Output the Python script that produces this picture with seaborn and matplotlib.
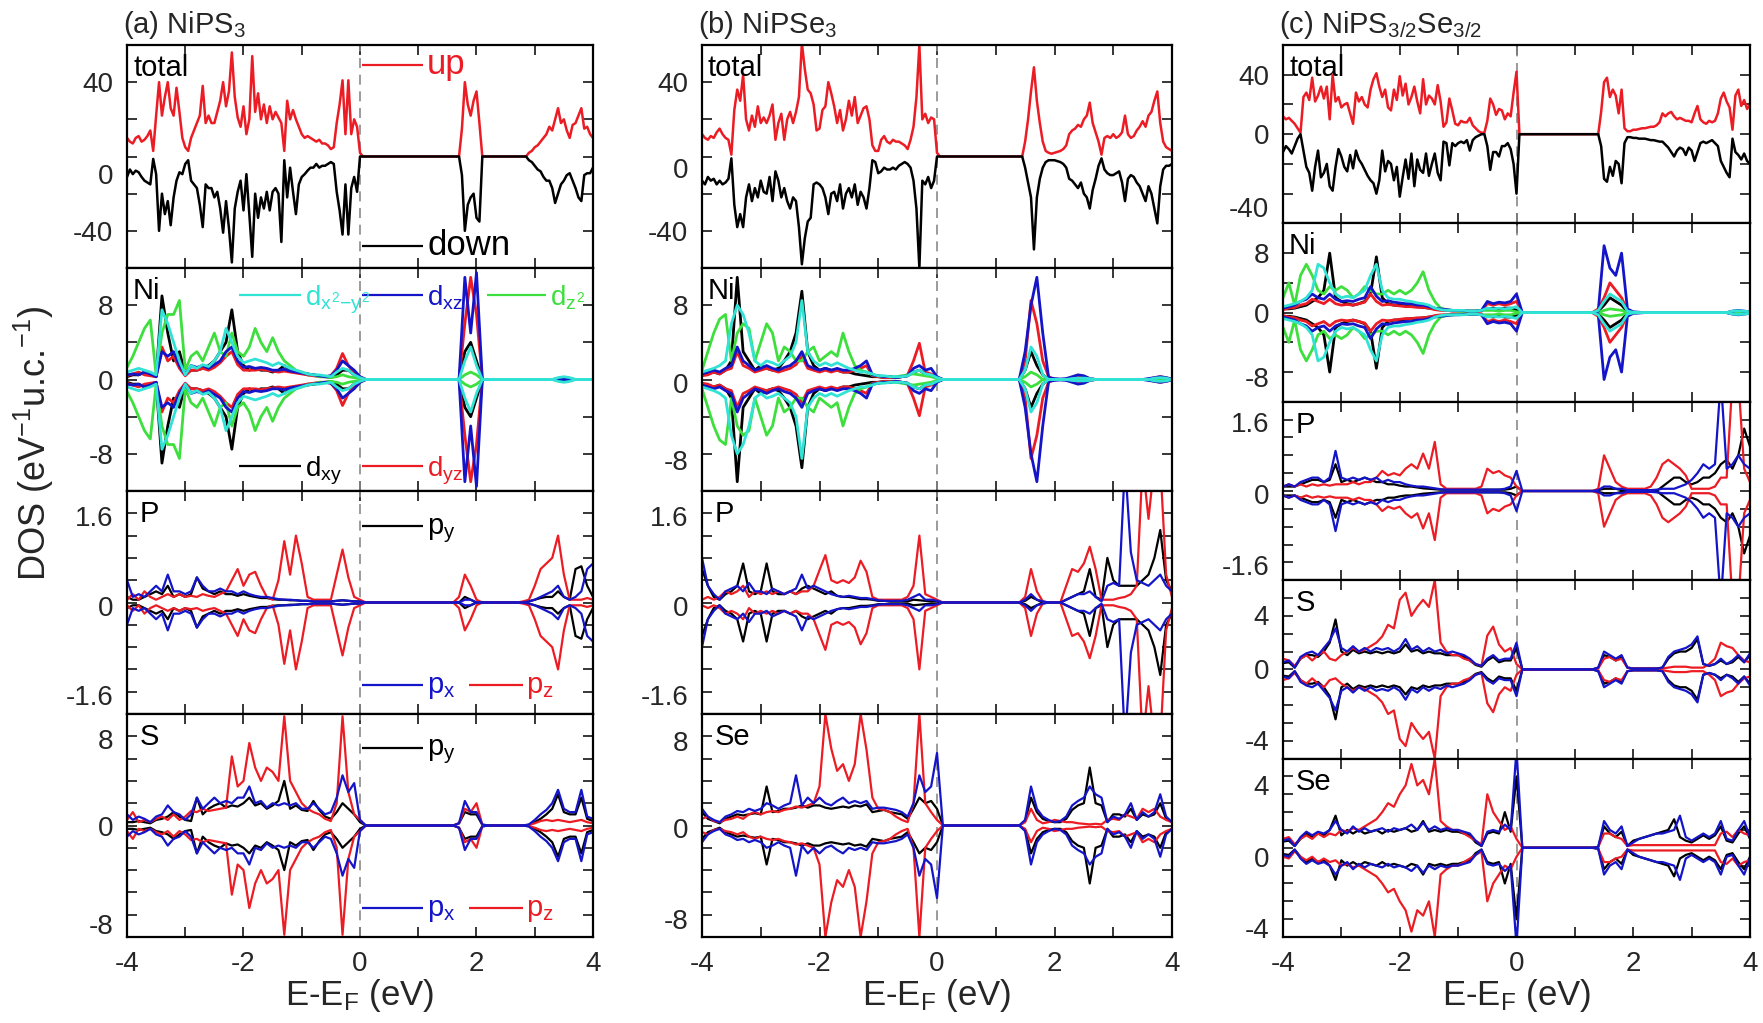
import matplotlib
matplotlib.use("Agg")
import matplotlib.pyplot as plt
import numpy as np
import seaborn as sns
from matplotlib.ticker import FixedLocator

# ---------------------------------------------------------------------------
# energy grids (eV); totals sampled every 0.05 eV, projected DOS every 0.1 eV
E_TOTAL = np.round(np.linspace(-4.0, 4.0, 161), 2)
E_PDOS = np.round(np.linspace(-4.0, 4.0, 81), 1)

# ---------------------------------------------------------------------------
# (a) NiPS3 total DOS (spin up > 0, spin down < 0)
A_TOT_UP = [
    10, 8, 7, 10, 11, 8, 9, 11, 14, 3,
    22, 40, 22, 32, 40, 26, 22, 37, 24, 10,
    5, 3, 10, 14, 18, 22, 38, 18, 22, 18,
    18, 24, 30, 40, 27, 35, 56, 32, 21, 16,
    27, 12, 20, 54, 24, 34, 20, 28, 18, 27,
    20, 24, 21, 18, 3, 30, 20, 25, 20, 16,
    12, 10, 11, 10, 9, 8, 9, 7, 7, 6,
    4, 5, 18, 28, 41, 12, 41, 12, 20, 16,
    2,
    0, 0, 0, 0, 0, 0, 0, 0, 0, 0,
    0, 0, 0, 0, 0, 0, 0, 0, 0, 0,
    0, 0, 0, 0, 0, 0, 0, 0, 0, 0,
    0, 0, 0, 0,
    15, 40, 28, 22, 30, 35, 18, 0,
    0, 0, 0, 0, 0, 0, 0, 0, 0, 0, 0, 0, 0, 0, 0,
    2, 3, 5, 6, 8, 10, 12, 16, 14,
    20, 26, 18, 20, 14, 10, 17, 18, 22, 26, 15, 16, 12, 10,
]
A_TOT_DN = [
    -11, -7, -9.5, -7.6, -8.5, -11, -13, -14, -15, -1.3,
    -9.5, -40, -20, -31, -24, -37, -22, -13, -8.5, -9.5,
    -4, -2, -13, -15, -17, -26, -38, -15, -17, -17,
    -22, -19, -28, -41, -24, -38.5, -57, -28, -19, -13,
    -29, -9.5, -31, -54, -20, -33, -22, -28, -19, -29,
    -19, -17, -20, -46, -2, -22, -6, -19, -31, -15,
    -11, -9.5, -7.6, -6, -6, -4, -6, -5, -5, -4,
    -3, -4, -19, -29, -42, -15, -42, -17, -11, -19,
    0,
    0, 0, 0, 0, 0, 0, 0, 0, 0, 0,
    0, 0, 0, 0, 0, 0, 0, 0, 0, 0,
    0, 0, 0, 0, 0, 0, 0, 0, 0, 0,
    0, 0, 0, 0,
    -10, -40, -26, -22, -20, -33, -35, 0,
    0, 0, 0, 0, 0, 0, 0, 0, 0, 0, 0, 0, 0, 0, 0,
    -2, -3, -5, -7, -8, -11, -13, -13, -17,
    -25, -20, -15, -13, -10, -9, -13, -17, -22, -24, -10, -9, -9, -6,
]

# (b) NiPSe3 total DOS
B_TOT_UP = [
    12, 10, 9, 11, 10, 13, 15, 12, 10, 9,
    1, 25, 36, 30, 44, 20, 14, 22, 16, 27,
    18, 21, 18, 22, 28, 9, 18, 23, 9, 20,
    24, 18, 24, 32, 61, 47, 36, 34, 28, 14,
    15, 25, 27, 40, 34, 27, 18, 25, 14, 20,
    30, 22, 32, 18, 22, 26, 27, 20, 6, 3,
    3, 9, 11, 8, 7, 9, 8, 8, 7, 6,
    4, 9, 16, 32, 60, 20, 23, 18, 21, 20,
    2,
    0, 0, 0, 0, 0, 0, 0, 0, 0, 0,
    0, 0, 0, 0, 0, 0, 0, 0, 0, 0,
    0, 0, 0, 0, 0, 0, 0, 0, 0,
    8, 20, 35, 48, 30, 18, 8, 3, 2, 1.5,
    2, 2.5, 3, 4, 6, 12, 14, 15, 17, 16,
    20, 22, 29, 18, 13, 8, 1, 10, 11, 10,
    12, 10, 11, 13, 22, 12, 10, 11, 14, 16,
    19, 16, 22, 24, 30, 35, 18, 8, 5, 4,
    3,
]
B_TOT_DN = [
    -13, -15, -11, -13, -12, -15, -13, -15, -14, -12,
    -1, -26, -38, -31, -38, -22, -15, -24, -17, -22,
    -13, -19, -20, -11, -24, -8, -13, -22, -17, -24,
    -28, -22, -24, -38, -58, -44, -35, -33, -15, -14,
    -15, -17, -22, -31, -20, -19, -24, -15, -28, -20,
    -17, -22, -15, -26, -19, -22, -28, -17, -2, -3,
    -9, -8, -6, -7, -7, -6, -7, -5, -4, -3,
    -4, -6, -13, -28, -60, -13, -15, -11, -17, -13,
    0,
    0, 0, 0, 0, 0, 0, 0, 0, 0, 0,
    0, 0, 0, 0, 0, 0, 0, 0, 0, 0,
    0, 0, 0, 0, 0, 0, 0, 0, 0,
    -6, -14, -22, -50, -22, -12, -6, -3, -2, -2,
    -2, -2.5, -3, -4, -6, -12, -13, -15, -17, -14,
    -20, -22, -28, -18, -12, -5, -1, -7, -9, -10,
    -10, -9, -8, -14, -24, -12, -10, -11, -14, -16,
    -20, -24, -16, -20, -28, -36, -16, -7, -5, -5,
    -4,
]

# (c) NiPS3/2Se3/2 total DOS
C_TOT_UP = [
    12, 10, 11, 9, 7, 4, 1, 25, 28, 23,
    38, 22, 26, 32, 24, 32, 10, 40, 22, 25,
    18, 20, 21, 14, 7, 28, 22, 25, 20, 18,
    30, 37, 41, 32, 25, 30, 18, 16, 30, 23,
    39, 26, 34, 20, 25, 32, 22, 14, 37, 20,
    26, 24, 20, 33, 22, 5, 8, 24, 16, 7,
    6, 9, 8, 8, 11, 6, 4, 2, 1, 1,
    9, 24, 20, 13, 17, 16, 10, 14, 12, 28,
    42,
    0, 0, 0, 0, 0, 0, 0, 0, 0, 0,
    0, 0, 0, 0, 0, 0, 0, 0, 0, 0,
    0, 0, 0, 0, 0, 0, 0, 0,
    15, 35, 38, 25, 30, 26, 14, 30, 4, 2,
    2, 3, 3, 3.5, 4, 4, 4.5, 5, 5, 6,
    8, 14, 12, 14, 15, 12, 10, 11, 10, 9,
    9, 8, 14, 19, 10, 8, 7, 9, 8, 9,
    14, 24, 28, 22, 18, 3, 26, 30, 19, 23,
    17, 20,
]
C_TOT_DN = [
    -12, -8, -10, -13, -8, -3, 0, -11, -22, -26,
    -38, -22, -11, -29, -26, -20, -35, -38, -22, -10,
    -15, -22, -25, -14, -23, -11, -17, -20, -24, -28,
    -31, -33, -40, -31, -11, -25, -18, -20, -31, -22,
    -42, -29, -17, -30, -13, -35, -17, -24, -26, -13,
    -28, -20, -13, -26, -31, -5, -6, -21, -6, -8,
    -6, -5, -6, -4, -11, -4, -2, -1, 0, 0,
    -8, -24, -12, -12, -15, -8, -8, -6, -10, -20,
    -40,
    0, 0, 0, 0, 0, 0, 0, 0, 0, 0,
    0, 0, 0, 0, 0, 0, 0, 0, 0, 0,
    0, 0, 0, 0, 0, 0, 0, 0,
    -8, -30, -32, -22, -28, -18, -20, -33, -6, -2,
    -2, -2.5, -2.5, -3, -3, -3, -3.5, -4, -4, -4.5,
    -5, -5, -7, -9, -12, -15, -11, -9, -10, -14,
    -9, -11, -18, -12, -6, -5, -6, -5, -4, -6,
    -8, -18, -22, -26, -29, -3, -12, -14, -17, -13,
    -18, -20,
]

# ---------------------------------------------------------------------------
# projected DOS, one spin channel (the other channel is its mirror image)
# rows: -4.0..-3.1 | -3.0..-2.1 | -2.0..-1.1 | -1.0..-0.1 |
#        0.0..0.9  |  1.0..1.9  |  2.0..2.9  |  3.0..3.9  | 4.0

# (a) NiPS3, Ni d
A_NI_DXY = [
    0.3, 0.5, 0.5, 0.8, 0.5, 0.3, 9.0, 5.0, 2.0, 3.0,
    0.6, 1.0, 1.0, 1.2, 1.5, 2.0, 3.0, 4.0, 7.5, 3.0,
    1.5, 1.0, 1.2, 1.0, 1.0, 0.8, 1.0, 1.5, 1.0, 0.8,
    0.7, 0.5, 0.5, 0.4, 0.3, 0.2, 0.5, 1.0, 1.0, 0.5,
    0.2, 0, 0, 0, 0, 0, 0, 0, 0, 0,
    0, 0, 0, 0, 0, 0, 0, 0, 3.0, 4.0,
    2.0, 0, 0, 0, 0, 0, 0, 0, 0, 0,
    0, 0, 0, 0, 0.05, 0.1, 0.05, 0, 0, 0,
    0,
]
A_NI_DYZ = [
    0.4, 0.6, 0.8, 0.5, 0.4, 0.3, 3.5, 2.0, 2.5, 1.2,
    0.4, 1.0, 1.0, 1.2, 1.0, 1.3, 1.8, 2.5, 3.0, 1.6,
    1.0, 1.0, 1.0, 1.1, 1.0, 0.9, 0.8, 0.9, 0.8, 0.7,
    0.6, 0.5, 0.4, 0.3, 0.3, 0.4, 1.2, 2.8, 1.5, 0.8,
    0.3, 0, 0, 0, 0, 0, 0, 0, 0, 0,
    0, 0, 0, 0, 0, 0, 0, 0, 6.0, 11.0,
    7.0, 0, 0, 0, 0, 0, 0, 0, 0, 0,
    0, 0, 0, 0, 0.05, 0.1, 0.05, 0, 0, 0,
    0,
]
A_NI_DXZ = [
    0.5, 0.6, 0.5, 0.8, 0.6, 0.3, 3.0, 2.5, 3.0, 1.5,
    0.5, 1.5, 1.3, 1.5, 1.2, 1.6, 2.0, 3.0, 3.5, 2.0,
    1.3, 1.4, 1.2, 1.3, 1.2, 1.0, 1.0, 1.1, 0.9, 0.8,
    0.7, 0.6, 0.5, 0.4, 0.3, 0.4, 1.0, 2.0, 1.5, 1.0,
    0.3, 0, 0, 0, 0, 0, 0, 0, 0, 0,
    0, 0, 0, 0, 0, 0, 0, 0, 11.0, 5.0,
    11.5, 0, 0, 0, 0, 0, 0, 0, 0, 0,
    0, 0, 0, 0, 0.05, 0.1, 0.05, 0, 0, 0,
    0,
]
A_NI_DX2Y2 = [
    0.8, 1.0, 1.2, 1.0, 0.8, 0.5, 7.5, 6.0, 4.0, 2.0,
    0.5, 1.5, 1.2, 1.6, 1.4, 2.0, 3.0, 5.5, 4.0, 2.5,
    1.8, 2.0, 2.2, 2.0, 1.8, 1.5, 1.8, 1.5, 1.2, 1.0,
    0.8, 0.6, 0.5, 0.5, 0.4, 0.3, 0.8, 1.2, 1.0, 0.5,
    0.2, 0, 0, 0, 0, 0, 0, 0, 0, 0,
    0, 0, 0, 0, 0, 0, 0, 0, 2.0, 3.5,
    1.5, 0, 0, 0, 0, 0, 0, 0, 0, 0,
    0, 0, 0, 0, 0.2, 0.3, 0.2, 0, 0, 0,
    0,
]
A_NI_DZ2 = [
    1.3, 2.5, 4.0, 5.5, 6.4, 0.5, 5.0, 7.0, 7.0, 8.5,
    1.0, 2.5, 3.0, 2.0, 3.5, 5.0, 3.0, 2.5, 5.0, 3.0,
    2.5, 3.5, 5.5, 4.0, 3.0, 4.5, 3.0, 2.0, 1.5, 1.0,
    0.8, 0.6, 0.5, 0.3, 0.3, 0.2, 0.3, 0.5, 0.3, 0.2,
    0.1, 0, 0, 0, 0, 0, 0, 0, 0, 0,
    0, 0, 0, 0, 0, 0, 0, 0, 0.5, 0.8,
    0.5, 0, 0, 0, 0, 0, 0, 0, 0, 0,
    0, 0, 0, 0, 0, 0, 0, 0, 0, 0,
    0,
]

# (a) NiPS3, P p
A_P_PY = [
    0.1, 0.05, 0.05, 0.1, 0.15, 0.2, 0.15, 0.3, 0.1, 0.15,
    0.1, 0.15, 0.45, 0.25, 0.2, 0.15, 0.2, 0.15, 0.15, 0.12,
    0.15, 0.12, 0.1, 0.08, 0.08, 0.06, 0.05, 0.05, 0.04, 0.04,
    0.03, 0.03, 0.02, 0.02, 0.02, 0.02, 0.03, 0.04, 0.03, 0.02,
    0.02, 0, 0, 0, 0, 0, 0, 0, 0, 0,
    0, 0, 0, 0, 0, 0, 0, 0, 0.1, 0.05,
    0, 0, 0, 0, 0, 0, 0, 0, 0, 0.02,
    0.05, 0.08, 0.1, 0.1, 0.2, 0.1, 0.05, 0.6, 0.65, 0.3,
    0.1,
]
A_P_PZ = [
    0.05, 0.15, 0.05, 0.2, 0.1, 0.05, 0.1, 0.15, 0.1, 0.15,
    0.1, 0.12, 0.1, 0.15, 0.12, 0.1, 0.15, 0.2, 0.4, 0.6,
    0.3, 0.5, 0.55, 0.3, 0.1, 0.05, 0.4, 1.1, 0.5, 1.2,
    0.7, 0.1, 0.05, 0.05, 0.05, 0.05, 0.5, 0.95, 0.45, 0.1,
    0.05, 0, 0, 0, 0, 0, 0, 0, 0, 0,
    0, 0, 0, 0, 0, 0, 0, 0.1, 0.5, 0.3,
    0.05, 0, 0, 0, 0, 0, 0, 0, 0.02, 0.05,
    0.3, 0.6, 0.7, 0.8, 1.2, 0.5, 0.05, 0.05, 0.05, 0.08,
    0.05,
]
A_P_PX = [
    0.4, 0.1, 0.15, 0.1, 0.2, 0.3, 0.2, 0.5, 0.2, 0.2,
    0.15, 0.2, 0.45, 0.3, 0.2, 0.2, 0.25, 0.2, 0.2, 0.15,
    0.2, 0.15, 0.12, 0.1, 0.1, 0.08, 0.06, 0.05, 0.05, 0.04,
    0.03, 0.03, 0.02, 0.02, 0.02, 0.02, 0.03, 0.04, 0.03, 0.02,
    0.02, 0, 0, 0, 0, 0, 0, 0, 0, 0,
    0, 0, 0, 0, 0, 0, 0, 0, 0.05, 0.05,
    0, 0, 0, 0, 0, 0, 0, 0, 0, 0.02,
    0.05, 0.1, 0.15, 0.2, 0.3, 0.1, 0.05, 0.1, 0.2, 0.6,
    0.7,
]

# (a) NiPS3, S p
A_S_PY = [
    0.3, 0.3, 0.4, 0.3, 0.2, 0.5, 0.6, 0.8, 1.2, 0.8,
    0.5, 0.4, 2.5, 1.0, 1.5, 1.8, 2.0, 1.6, 1.8, 1.7,
    2.0, 2.5, 1.8, 2.0, 1.5, 1.8, 2.2, 4.0, 1.5, 1.8,
    1.4, 1.3, 2.2, 1.4, 0.8, 0.6, 1.2, 2.0, 1.5, 1.0,
    0.3, 0, 0, 0, 0, 0, 0, 0, 0, 0,
    0, 0, 0, 0, 0, 0, 0, 0.2, 1.2, 1.0,
    1.0, 0.05, 0, 0, 0, 0, 0, 0, 0, 0.05,
    0.3, 0.6, 1.0, 1.5, 2.8, 1.2, 1.0, 1.0, 2.5, 0.6,
    0.4,
]
A_S_PZ = [
    0.5, 1.2, 0.3, 0.5, 0.3, 0.6, 0.8, 0.5, 1.0, 0.5,
    0.8, 1.3, 1.2, 1.5, 1.3, 1.4, 1.5, 1.6, 6.2, 3.5,
    4.0, 7.4, 5.2, 4.0, 5.2, 4.8, 4.0, 9.8, 4.0, 3.0,
    2.0, 1.5, 1.2, 1.0, 0.6, 0.4, 2.0, 9.8, 3.0, 1.0,
    0.5, 0, 0, 0, 0, 0, 0, 0, 0, 0,
    0, 0, 0, 0, 0, 0, 0, 0.2, 1.5, 1.2,
    2.0, 0.05, 0, 0, 0, 0, 0, 0, 0, 0.05,
    0.2, 0.4, 0.5, 0.4, 0.5, 0.4, 0.3, 0.4, 0.5, 0.3,
    0.2,
]
A_S_PX = [
    1.0, 0.5, 0.8, 0.6, 0.3, 0.8, 1.0, 1.8, 1.2, 1.0,
    0.5, 1.0, 2.5, 1.5, 2.0, 2.5, 2.0, 2.2, 2.0, 2.5,
    2.5, 3.5, 2.0, 2.2, 1.6, 2.0, 1.8, 2.0, 1.8, 2.0,
    1.5, 1.5, 2.0, 1.5, 1.0, 1.2, 2.5, 4.5, 3.0, 3.8,
    0.5, 0, 0, 0, 0, 0, 0, 0, 0, 0,
    0, 0, 0, 0, 0, 0, 0, 0.2, 2.2, 1.2,
    1.2, 0.1, 0, 0, 0, 0, 0, 0, 0, 0.1,
    0.5, 1.0, 1.4, 2.0, 3.2, 1.5, 1.2, 1.2, 3.2, 0.8,
    0.6,
]

# (b) NiPSe3, Ni d
B_NI_DXY = [
    0.5, 0.6, 0.8, 0.6, 1.0, 2.0, 11.0, 3.0, 2.0, 1.0,
    1.5, 1.2, 1.0, 1.2, 2.0, 3.0, 5.0, 9.5, 3.0, 1.5,
    1.0, 1.2, 1.0, 1.0, 0.8, 0.8, 0.6, 0.5, 0.4, 0.3,
    0.3, 0.2, 0.2, 0.2, 0.3, 0.4, 0.8, 1.0, 0.6, 0.5,
    0.2, 0, 0, 0, 0, 0, 0, 0, 0, 0,
    0, 0, 0, 0, 0, 1.0, 3.0, 1.5, 0.5, 0,
    0, 0, 0, 0, 0, 0, 0, 0, 0, 0,
    0, 0, 0, 0, 0, 0, 0, 0, 0, 0,
    0,
]
B_NI_DYZ = [
    0.4, 0.5, 0.8, 0.6, 1.0, 1.2, 3.0, 1.5, 1.2, 0.8,
    1.0, 1.2, 1.0, 0.8, 1.0, 1.2, 1.6, 2.5, 1.2, 1.0,
    0.8, 1.0, 0.8, 1.0, 0.8, 0.8, 1.0, 1.2, 1.5, 0.4,
    0.3, 0.2, 0.2, 0.2, 0.3, 0.5, 2.0, 3.9, 0.8, 0.6,
    0.2, 0, 0, 0, 0, 0, 0, 0, 0, 0,
    0, 0, 0, 0, 0, 2.0, 8.5, 6.0, 2.0, 0.3,
    0, 0, 0, 0.2, 0.3, 0.3, 0.1, 0, 0, 0,
    0, 0, 0, 0, 0, 0, 0, 0.2, 0.3, 0.2,
    0,
]
B_NI_DXZ = [
    0.6, 0.8, 1.0, 0.8, 1.2, 1.5, 3.5, 2.0, 1.5, 1.0,
    1.2, 1.5, 1.2, 1.0, 1.3, 1.5, 2.0, 3.0, 1.5, 1.2,
    1.0, 1.2, 1.0, 1.2, 1.0, 1.0, 1.2, 1.5, 2.0, 0.5,
    0.4, 0.3, 0.3, 0.2, 0.3, 0.4, 1.2, 1.5, 1.0, 1.2,
    0.3, 0, 0, 0, 0, 0, 0, 0, 0, 0,
    0, 0, 0, 0, 0, 3.0, 8.0, 11.0, 5.0, 0.2,
    0.1, 0.05, 0.1, 0.3, 0.5, 0.4, 0.1, 0, 0, 0,
    0, 0, 0, 0, 0, 0, 0.1, 0.2, 0.3, 0.2,
    0.05,
]
B_NI_DX2Y2 = [
    0.8, 1.0, 1.2, 1.5, 2.0, 6.0, 8.0, 7.0, 5.0, 2.0,
    1.5, 2.0, 1.8, 1.5, 2.0, 2.5, 4.0, 8.5, 3.0, 2.0,
    1.5, 1.8, 1.5, 1.8, 1.5, 1.2, 1.0, 0.8, 0.8, 0.6,
    0.4, 0.4, 0.3, 0.3, 0.3, 0.4, 0.8, 1.0, 0.6, 0.5,
    0.2, 0, 0, 0, 0, 0, 0, 0, 0, 0,
    0, 0, 0, 0, 0, 1.0, 3.5, 2.5, 0.5, 0,
    0, 0, 0, 0.1, 0.15, 0.15, 0.1, 0, 0, 0,
    0, 0, 0, 0, 0, 0, 0, 0.15, 0.2, 0.15,
    0,
]
B_NI_DZ2 = [
    1.0, 3.0, 5.0, 6.5, 7.0, 2.0, 5.0, 6.0, 5.5, 2.0,
    4.0, 6.0, 5.0, 2.0, 3.5, 3.0, 2.0, 2.0, 3.0, 3.5,
    2.0, 2.5, 3.0, 2.5, 5.0, 3.0, 1.5, 1.0, 0.8, 0.5,
    0.4, 0.3, 0.3, 0.3, 0.4, 0.5, 0.6, 0.5, 0.4, 0.3,
    0.1, 0, 0, 0, 0, 0, 0, 0, 0, 0,
    0, 0, 0, 0, 0, 0.3, 0.8, 0.5, 0, 0,
    0, 0, 0, 0, 0, 0, 0, 0, 0, 0,
    0, 0, 0, 0, 0, 0, 0, 0, 0, 0,
    0,
]

# (b) NiPSe3, P p
B_P_PY = [
    0.6, 0.3, 0.1, 0.05, 0.15, 0.2, 0.3, 0.7, 0.2, 0.15,
    0.2, 0.7, 0.2, 0.15, 0.15, 0.2, 0.15, 0.25, 0.3, 0.25,
    0.2, 0.15, 0.2, 0.12, 0.1, 0.1, 0.08, 0.06, 0.06, 0.05,
    0.03, 0.03, 0.02, 0.02, 0.02, 0.02, 0.05, 0.04, 0.03, 0.02,
    0.02, 0, 0, 0, 0, 0, 0, 0, 0, 0,
    0, 0, 0, 0, 0, 0.03, 0.1, 0.05, 0, 0,
    0, 0, 0.05, 0.1, 0.15, 0.2, 0.6, 0.1, 0.05, 0.8,
    0.4, 0.3, 0.3, 0.3, 0.3, 0.4, 0.5, 0.8, 1.3, 0.4,
    0.2,
]
B_P_PZ = [
    0.05, 0.1, 0.05, 0.1, 0.2, 0.15, 0.2, 0.3, 0.1, 0.2,
    0.15, 0.2, 0.15, 0.2, 0.15, 0.2, 0.15, 0.2, 0.2, 0.3,
    0.58, 0.85, 0.4, 0.35, 0.4, 0.35, 0.45, 0.75, 0.55, 0.1,
    0.05, 0.05, 0.05, 0.05, 0.05, 0.1, 0.3, 1.2, 0.15, 0.1,
    0.05, 0, 0, 0, 0, 0, 0, 0, 0, 0,
    0, 0, 0, 0, 0, 0.1, 0.6, 0.2, 0.02, 0,
    0, 0, 0.3, 0.6, 0.55, 0.7, 1.0, 0.6, 0.05, 0.05,
    0.05, 0.08, 0.1, 0.15, 0.3, 2.5, 1.5, 2.5, 2.5, 0.5,
    0.1,
]
B_P_PX = [
    0.8, 0.3, 0.15, 0.05, 0.2, 0.25, 0.3, 0.2, 0.35, 0.2,
    0.2, 0.15, 0.25, 0.2, 0.15, 0.2, 0.25, 0.5, 0.25, 0.3,
    0.25, 0.2, 0.15, 0.12, 0.1, 0.12, 0.1, 0.08, 0.08, 0.06,
    0.04, 0.03, 0.03, 0.03, 0.03, 0.05, 0.1, 0.15, 0.05, 0.05,
    0.03, 0, 0, 0, 0, 0, 0, 0, 0, 0,
    0, 0, 0, 0, 0, 0.05, 0.15, 0.05, 0.02, 0,
    0, 0, 0.05, 0.1, 0.15, 0.15, 0.2, 0.1, 0.02, 0.3,
    0.35, 0.3, 2.5, 0.9, 0.4, 0.35, 0.3, 0.4, 0.5, 0.3,
    0.2,
]

# (b) NiPSe3, Se p
B_SE_PY = [
    1.2, 0.6, 0.4, 0.2, 0.6, 0.8, 1.0, 0.9, 1.0, 1.1,
    1.0, 3.5, 1.2, 1.3, 1.5, 1.5, 1.6, 1.8, 1.6, 1.8,
    1.8, 1.6, 1.5, 1.6, 1.7, 1.6, 1.8, 1.7, 1.9, 1.2,
    1.3, 1.4, 1.2, 1.1, 1.0, 0.6, 1.5, 2.5, 2.0, 2.2,
    1.5, 0, 0, 0, 0, 0, 0, 0, 0, 0,
    0, 0, 0, 0, 0, 0.4, 2.5, 1.2, 0.6, 0.4,
    0.3, 0.3, 0.6, 1.4, 1.8, 2.0, 5.2, 2.0, 1.8, 0.3,
    1.0, 1.0, 0.8, 1.5, 0.5, 1.0, 0.8, 1.0, 2.0, 0.6,
    0.3,
]
B_SE_PZ = [
    0.6, 0.8, 0.4, 0.3, 0.5, 0.6, 0.8, 0.6, 1.0, 1.2,
    1.0, 1.2, 1.3, 1.2, 1.4, 1.5, 1.7, 1.6, 1.8, 2.0,
    3.5, 10.0, 6.9, 4.9, 5.5, 4.0, 5.5, 10.0, 6.8, 2.5,
    1.5, 1.4, 1.2, 0.8, 0.5, 0.3, 2.0, 10.0, 2.0, 1.2,
    0.5, 0, 0, 0, 0, 0, 0, 0, 0, 0,
    0, 0, 0, 0, 0, 0.3, 1.5, 0.5, 0.2, 0.3,
    0.5, 0.4, 0.3, 0.3, 0.2, 0.15, 0.1, 0.15, 0.1, 0.5,
    0.6, 0.5, 1.0, 0.8, 0.6, 1.5, 1.2, 1.5, 0.8, 0.5,
    0.3,
]
B_SE_PX = [
    1.5, 0.8, 0.5, 0.3, 0.8, 1.0, 1.3, 1.2, 1.5, 1.3,
    1.5, 2.0, 1.8, 1.5, 1.8, 2.0, 4.5, 1.8, 2.5, 2.0,
    2.5, 2.0, 1.8, 2.2, 2.5, 2.0, 2.2, 2.0, 2.2, 1.5,
    1.6, 1.6, 1.5, 1.4, 1.2, 0.8, 2.0, 4.5, 3.0, 3.5,
    6.5, 0, 0, 0, 0, 0, 0, 0, 0, 0,
    0, 0, 0, 0, 0, 0.5, 3.5, 1.5, 0.8, 0.5,
    0.3, 0.4, 0.8, 1.8, 2.2, 2.5, 3.5, 2.8, 2.5, 0.3,
    0.8, 0.6, 1.0, 2.0, 0.5, 1.2, 0.8, 1.2, 2.8, 0.8,
    0.3,
]

# (c) NiPS3/2Se3/2, Ni d
C_NI_DXY = [
    0.5, 0.5, 0.6, 0.8, 1.0, 1.5, 2.0, 3.0, 8.0, 2.0,
    1.5, 1.2, 1.0, 1.2, 1.5, 2.5, 7.5, 2.0, 1.2, 1.0,
    1.0, 0.9, 0.8, 0.8, 0.7, 0.6, 0.5, 0.4, 0.3, 0.3,
    0.25, 0.25, 0.2, 0.2, 0.3, 0.5, 0.6, 0.5, 0.6, 0.6,
    0.3, 0, 0, 0, 0, 0, 0, 0, 0, 0,
    0, 0, 0, 0, 0.2, 1.0, 2.0, 1.5, 1.0, 0.1,
    0, 0, 0, 0, 0, 0, 0, 0, 0, 0,
    0, 0, 0, 0, 0, 0, 0, 0.1, 0.1, 0.1,
    0.05,
]
C_NI_DYZ = [
    0.4, 0.6, 0.7, 1.0, 1.2, 1.8, 1.5, 1.2, 1.8, 1.2,
    1.0, 1.1, 1.0, 1.2, 1.4, 2.5, 1.5, 1.0, 1.1, 1.0,
    0.9, 0.8, 0.8, 0.7, 0.7, 0.6, 0.4, 0.3, 0.3, 0.2,
    0.2, 0.2, 0.15, 0.15, 0.2, 1.2, 1.0, 1.2, 1.0, 1.2,
    1.5, 0, 0, 0, 0, 0, 0, 0, 0, 0,
    0, 0, 0, 0, 0.5, 2.0, 4.0, 3.0, 2.0, 0.3,
    0.05, 0, 0, 0, 0, 0, 0, 0, 0, 0,
    0, 0, 0, 0, 0, 0, 0, 0.1, 0.15, 0.1,
    0.05,
]
C_NI_DXZ = [
    0.6, 0.8, 1.0, 1.5, 1.8, 2.5, 2.0, 1.8, 2.5, 1.8,
    1.5, 1.6, 1.5, 1.8, 2.0, 3.5, 2.2, 1.5, 1.6, 1.4,
    1.3, 1.2, 1.2, 1.0, 1.0, 0.8, 0.6, 0.5, 0.4, 0.3,
    0.3, 0.25, 0.2, 0.2, 0.3, 1.5, 1.2, 1.4, 1.3, 1.5,
    2.5, 0, 0, 0, 0, 0, 0, 0, 0, 0,
    0, 0, 0, 0, 0.2, 9.0, 6.0, 5.0, 8.0, 0.5,
    0.1, 0.05, 0, 0, 0, 0, 0, 0, 0, 0,
    0, 0, 0, 0, 0, 0, 0, 0.2, 0.3, 0.2,
    0.1,
]
C_NI_DX2Y2 = [
    0.8, 1.0, 1.2, 1.5, 2.0, 3.0, 6.5, 6.0, 4.0, 2.5,
    2.0, 2.2, 2.0, 2.5, 3.0, 5.0, 6.5, 3.0, 2.0, 1.8,
    1.8, 1.6, 1.5, 1.3, 1.2, 1.0, 0.6, 0.4, 0.3, 0.3,
    0.3, 0.3, 0.2, 0.2, 0.3, 0.6, 0.5, 0.6, 0.5, 0.6,
    0.8, 0, 0, 0, 0, 0, 0, 0, 0, 0,
    0, 0, 0, 0, 0.3, 1.5, 2.5, 2.0, 1.5, 0.2,
    0.05, 0, 0, 0, 0, 0, 0, 0, 0, 0,
    0, 0, 0, 0, 0, 0, 0, 0.2, 0.25, 0.2,
    0.1,
]
C_NI_DZ2 = [
    2.0, 4.0, 1.0, 5.0, 6.5, 5.0, 3.0, 2.5, 3.5, 3.0,
    3.5, 3.0, 2.0, 2.5, 3.5, 3.0, 2.5, 2.5, 3.0, 2.5,
    3.0, 2.5, 3.0, 4.0, 5.5, 3.0, 1.5, 0.6, 0.4, 0.3,
    0.2, 0.2, 0.2, 0.2, 0.3, 0.3, 0.3, 0.2, 0.3, 0.3,
    0.1, 0, 0, 0, 0, 0, 0, 0, 0, 0,
    0, 0, 0, 0, 0, 0.3, 0.5, 0.4, 0.3, 0,
    0, 0, 0, 0, 0, 0, 0, 0, 0, 0,
    0, 0, 0, 0, 0, 0, 0, 0, 0, 0,
    0,
]

# (c) NiPS3/2Se3/2, P p
C_P_PY = [
    0.1, 0.1, 0.1, 0.15, 0.2, 0.25, 0.25, 0.2, 0.25, 0.6,
    0.2, 0.25, 0.2, 0.25, 0.3, 0.25, 0.2, 0.2, 0.15, 0.15,
    0.12, 0.1, 0.1, 0.08, 0.06, 0.05, 0.04, 0.03, 0.03, 0.03,
    0.03, 0.03, 0.03, 0.03, 0.03, 0.03, 0.03, 0.03, 0.03, 0.05,
    0.1, 0, 0, 0, 0, 0, 0, 0, 0, 0,
    0, 0, 0, 0, 0.02, 0.05, 0.05, 0.05, 0.02, 0,
    0, 0, 0, 0, 0, 0.1, 0.2, 0.3, 0.3, 0.2,
    0.15, 0.2, 0.3, 0.3, 0.4, 0.6, 0.7, 0.5, 0.8, 1.4,
    1.0,
]
C_P_PZ = [
    0.1, 0.15, 0.1, 0.15, 0.1, 0.15, 0.12, 0.15, 0.12, 0.15,
    0.15, 0.15, 0.2, 0.15, 0.2, 0.2, 0.3, 0.45, 0.35, 0.4,
    0.35, 0.5, 0.6, 0.5, 0.84, 0.5, 1.1, 0.15, 0.05, 0.05,
    0.05, 0.05, 0.05, 0.05, 0.1, 0.5, 0.4, 0.45, 0.35, 0.3,
    0.1, 0, 0, 0, 0, 0, 0, 0, 0, 0,
    0, 0, 0, 0, 0.05, 0.8, 0.5, 0.2, 0.1, 0.05,
    0.05, 0.05, 0.05, 0.1, 0.3, 0.6, 0.7, 0.6, 0.5, 0.35,
    0.05, 0.05, 0.05, 0.05, 0.1, 0.3, 0.3, 2.5, 2.5, 0.5,
    0.2,
]
C_P_PX = [
    0.1, 0.15, 0.1, 0.2, 0.25, 0.3, 0.3, 0.2, 0.3, 0.9,
    0.3, 0.25, 0.3, 0.25, 0.3, 0.25, 0.3, 0.2, 0.25, 0.2,
    0.2, 0.15, 0.12, 0.1, 0.1, 0.08, 0.06, 0.04, 0.03, 0.03,
    0.03, 0.03, 0.03, 0.03, 0.03, 0.03, 0.03, 0.03, 0.05, 0.1,
    0.45, 0, 0, 0, 0, 0, 0, 0, 0, 0,
    0, 0, 0, 0, 0.02, 0.1, 0.1, 0.05, 0.05, 0.02,
    0.02, 0.02, 0.02, 0.02, 0.03, 0.05, 0.05, 0.05, 0.1, 0.15,
    0.25, 0.4, 0.6, 0.5, 0.6, 2.5, 0.5, 0.6, 0.8, 0.6,
    0.5,
]

# (c) NiPS3/2Se3/2, S p
C_S_PY = [
    0.35, 0.4, 0.1, 0.6, 0.8, 0.8, 0.7, 1.0, 1.5, 2.8,
    1.0, 0.8, 1.1, 0.9, 1.0, 0.9, 1.0, 0.9, 1.0, 0.9,
    1.0, 1.4, 1.0, 1.1, 0.9, 1.0, 0.9, 0.9, 0.8, 0.8,
    0.8, 0.7, 0.5, 0.25, 0.15, 0.5, 0.7, 0.4, 0.5, 0.5,
    1.2, 0, 0, 0, 0, 0, 0, 0, 0, 0,
    0, 0, 0, 0, 0.1, 0.8, 0.7, 0.5, 0.7, 0.1,
    0.05, 0.05, 0.05, 0.05, 0.05, 0.1, 0.6, 0.9, 1.0, 1.0,
    1.2, 1.7, 0.3, 0.2, 0.3, 0.5, 0.3, 0.4, 0.7, 0.4,
    0.8,
]
C_S_PZ = [
    0.6, 0.5, 0.2, 0.6, 0.8, 0.5, 0.8, 1.0, 0.6, 0.5,
    0.8, 1.0, 1.2, 1.0, 1.1, 1.3, 1.5, 1.85, 2.5, 2.3,
    3.9, 4.3, 3.0, 3.5, 3.9, 3.5, 5.0, 1.5, 1.0, 0.8,
    0.8, 0.6, 0.5, 0.3, 0.2, 1.9, 2.4, 1.4, 1.0, 1.2,
    0.3, 0, 0, 0, 0, 0, 0, 0, 0, 0,
    0, 0, 0, 0, 0.05, 0.6, 0.7, 0.5, 0.6, 0.1,
    0.05, 0.05, 0.05, 0.05, 0.05, 0.05, 0.1, 0.15, 0.15, 0.15,
    0.1, 0.1, 0.1, 0.3, 0.6, 1.5, 1.3, 1.2, 0.8, 0.5,
    0.4,
]
C_S_PX = [
    0.4, 0.5, 0.1, 0.7, 0.9, 1.0, 0.8, 1.2, 1.6, 2.3,
    1.2, 1.0, 1.3, 1.0, 1.2, 1.0, 1.2, 1.1, 1.2, 1.0,
    1.2, 1.7, 1.1, 1.3, 1.0, 1.2, 1.0, 1.1, 0.9, 1.0,
    0.9, 0.8, 0.6, 0.3, 0.2, 0.6, 0.8, 0.5, 0.6, 0.6,
    1.5, 0, 0, 0, 0, 0, 0, 0, 0, 0,
    0, 0, 0, 0, 0.1, 1.0, 0.8, 0.6, 0.8, 0.1,
    0.05, 0.05, 0.05, 0.05, 0.05, 0.1, 0.7, 1.0, 1.1, 1.2,
    1.4, 1.85, 0.3, 0.2, 0.3, 0.6, 0.3, 0.5, 0.8, 0.4,
    0.9,
]

# (c) NiPS3/2Se3/2, Se p
C_SE_PY = [
    0.35, 0.4, 0.1, 0.5, 0.8, 0.6, 0.8, 0.7, 1.0, 1.8,
    0.7, 1.0, 0.8, 1.0, 0.8, 0.9, 1.0, 0.8, 1.0, 0.9,
    1.0, 1.1, 0.9, 1.0, 1.5, 0.9, 1.0, 0.9, 1.0, 0.9,
    0.9, 0.8, 0.7, 0.3, 0.1, 0.8, 0.9, 0.8, 2.0, 0.9,
    4.0, 0, 0, 0, 0, 0, 0, 0, 0, 0,
    0, 0, 0, 0, 0.05, 1.2, 0.8, 0.6, 0.9, 0.1,
    0.4, 0.5, 0.6, 0.7, 0.8, 0.9, 1.0, 1.6, 0.6, 0.4,
    0.3, 0.5, 0.7, 0.5, 0.7, 1.2, 0.4, 0.3, 0.8, 1.2,
    0.5,
]
C_SE_PZ = [
    0.5, 0.6, 0.2, 0.5, 0.7, 0.5, 0.8, 0.6, 0.8, 0.7,
    1.0, 0.9, 1.1, 1.0, 1.2, 1.4, 1.6, 2.0, 2.5, 2.3,
    3.0, 3.5, 4.7, 3.5, 3.8, 3.0, 5.0, 1.5, 1.2, 1.0,
    1.0, 0.8, 0.6, 0.4, 0.2, 3.0, 2.0, 1.5, 1.0, 1.2,
    0.5, 0, 0, 0, 0, 0, 0, 0, 0, 0,
    0, 0, 0, 0, 0.05, 0.8, 0.8, 0.6, 0.5, 0.1,
    0.15, 0.15, 0.15, 0.15, 0.15, 0.15, 0.15, 0.15, 0.15, 0.15,
    0.15, 0.15, 0.15, 0.15, 0.15, 0.8, 0.9, 0.6, 1.0, 0.8,
    0.7,
]
C_SE_PX = [
    0.4, 0.5, 0.1, 0.6, 0.9, 0.7, 0.9, 0.8, 1.0, 1.5,
    1.0, 0.8, 1.2, 0.9, 1.1, 0.9, 1.0, 1.1, 0.9, 1.1,
    1.0, 1.1, 1.3, 1.0, 1.4, 1.0, 1.2, 1.0, 1.1, 1.0,
    1.0, 0.9, 0.8, 0.4, 0.1, 0.9, 1.0, 0.9, 1.3, 1.0,
    5.5, 0, 0, 0, 0, 0, 0, 0, 0, 0,
    0, 0, 0, 0, 0.05, 1.5, 1.0, 0.8, 1.2, 0.1,
    0.3, 0.5, 0.6, 0.7, 0.8, 0.8, 0.9, 1.0, 1.8, 0.6,
    0.4, 0.6, 0.8, 0.6, 0.8, 1.5, 0.5, 0.4, 1.0, 1.5,
    0.6,
]

# ---------------------------------------------------------------------------
RED = "#ec1c24"
BLACK = "#000000"
BLUE = "#1414c8"
CYAN = "#30e3d5"
GREEN = "#3ddf3d"
GRAY = "#8a8a8a"

FIG_W, FIG_H = 1763, 1023
TOP, BOTTOM = 45, 937

sns.set_theme(style="ticks", rc={"axes.linewidth": 1.6, "axes.edgecolor": "black"})
plt.rcParams["font.family"] = ["Liberation Sans", "DejaVu Sans"]
plt.rcParams["mathtext.fontset"] = "custom"
plt.rcParams["mathtext.rm"] = "Liberation Sans"
plt.rcParams["mathtext.it"] = "Liberation Sans"
plt.rcParams["mathtext.bf"] = "Liberation Sans:bold"


def ni_series(dxy, dyz, dz2, dxz, dx2y2):
    return [(dxy, BLACK), (dyz, RED), (dz2, GREEN), (dxz, BLUE), (dx2y2, CYAN)]


def p_series(py, pz, px):
    return [(py, BLACK), (pz, RED), (px, BLUE)]


P_LABELS = [(1.55, "1.6"), (-0.06, "0"), (-1.66, "-1.6")]

COLUMNS = [
    dict(title=r"(a) NiPS$_3$", x=(127, 593), legend=True, panels=[
        dict(kind="total", name="total", up=A_TOT_UP, down=A_TOT_DN, lim=60, step=20,
             ylabels=[(40, "40"), (-9.5, "0"), (-40, "-40")]),
        dict(kind="ni", name="Ni", lim=12, step=4,
             series=ni_series(A_NI_DXY, A_NI_DYZ, A_NI_DZ2, A_NI_DXZ, A_NI_DX2Y2),
             ylabels=[(8, "8"), (0, "0"), (-8, "-8")]),
        dict(kind="p", name="P", lim=2, step=0.4,
             series=p_series(A_P_PY, A_P_PZ, A_P_PX), ylabels=P_LABELS),
        dict(kind="p", name="S", lim=10, step=2,
             series=p_series(A_S_PY, A_S_PZ, A_S_PX),
             ylabels=[(7.8, "8"), (0, "0"), (-8.8, "-8")]),
    ]),
    dict(title=r"(b) NiPSe$_3$", x=(702, 1172), legend=False, panels=[
        dict(kind="total", name="total", up=B_TOT_UP, down=B_TOT_DN, lim=60, step=20,
             ylabels=[(40, "40"), (-6, "0"), (-40, "-40")]),
        dict(kind="ni", name="Ni", lim=12, step=4,
             series=ni_series(B_NI_DXY, B_NI_DYZ, B_NI_DZ2, B_NI_DXZ, B_NI_DX2Y2),
             ylabels=[(8, "8"), (-0.4, "0"), (-8.7, "-8")]),
        dict(kind="p", name="P", lim=2, step=0.4,
             series=p_series(B_P_PY, B_P_PZ, B_P_PX), ylabels=P_LABELS),
        dict(kind="p", name="Se", lim=10, step=2,
             series=p_series(B_SE_PY, B_SE_PZ, B_SE_PX),
             ylabels=[(7.6, "8"), (-0.2, "0"), (-8.4, "-8")]),
    ]),
    dict(title=r"(c) NiPS$_{3/2}$Se$_{3/2}$", x=(1283, 1750), legend=False, panels=[
        dict(kind="total", name="total", up=C_TOT_UP, down=C_TOT_DN, lim=60, step=20,
             ylabels=[(40, "40"), (0, "0"), (-49, "-40")]),
        dict(kind="ni", name="Ni", lim=12, step=4,
             series=ni_series(C_NI_DXY, C_NI_DYZ, C_NI_DZ2, C_NI_DXZ, C_NI_DX2Y2),
             ylabels=[(8, "8"), (0, "0"), (-8.7, "-8")]),
        dict(kind="p", name="P", lim=2, step=0.4,
             series=p_series(C_P_PY, C_P_PZ, C_P_PX), ylabels=P_LABELS),
        dict(kind="p", name="S", lim=5, step=1,
             series=p_series(C_S_PY, C_S_PZ, C_S_PX),
             ylabels=[(3.06, "4"), (0.05, "0"), (-3.95, "-4")]),
        dict(kind="p", name="Se", lim=5, step=1,
             series=p_series(C_SE_PY, C_SE_PZ, C_SE_PX),
             ylabels=[(3.5, "4"), (-0.5, "0"), (-4.5, "-4")]),
    ]),
]

# legend entries drawn inside the panels of column (a):
# (x start, x end, y, text, colour, font size, baseline drop in px)
LEGENDS = {
    "total": [(0.505, 0.636, 0.91, "up", RED, 25, 9),
              (0.505, 0.636, 0.098, "down", BLACK, 25, 9)],
    "Ni": [(0.24, 0.373, 0.88, r"d$_{x^2\mathregular{-}y^2}$", CYAN, 20, 11),
           (0.505, 0.636, 0.88, r"d$_{xz}$", BLUE, 20, 11),
           (0.772, 0.90, 0.88, r"d$_{z^2}$", GREEN, 20, 11),
           (0.24, 0.373, 0.113, r"d$_{xy}$", BLACK, 20, 11),
           (0.505, 0.636, 0.113, r"d$_{yz}$", RED, 20, 11)],
    "P": [(0.505, 0.636, 0.844, r"p$_y$", BLACK, 21, 8),
          (0.505, 0.636, 0.128, r"p$_x$", BLUE, 21, 8),
          (0.734, 0.849, 0.128, r"p$_z$", RED, 21, 8)],
    "S": [(0.505, 0.636, 0.849, r"p$_y$", BLACK, 21, 8),
          (0.505, 0.636, 0.132, r"p$_x$", BLUE, 21, 8),
          (0.734, 0.849, 0.132, r"p$_z$", RED, 21, 8)],
}


def check_lengths():
    for name, value in globals().items():
        if name.endswith(("_UP", "_DN")) and name.startswith(("A_", "B_", "C_")):
            if len(value) != len(E_TOTAL):
                raise ValueError(f"{name}: {len(value)} values")
        elif name.startswith(("A_", "B_", "C_")) and isinstance(value, list):
            if len(value) != len(E_PDOS):
                raise ValueError(f"{name}: {len(value)} values")


def draw(ax, x, y, color, lw):
    sns.lineplot(x=x, y=y, ax=ax, color=color, linewidth=lw,
                 estimator=None, sort=False, legend=False)


def style_axis(ax, spec, is_bottom):
    lim, step = spec["lim"], spec["step"]
    ax.set_xlim(-4, 4)
    ax.set_ylim(-lim, lim)
    marks = np.round(np.arange(-lim + step, lim - step / 2, step), 3)
    ax.yaxis.set_major_locator(FixedLocator([p for p, _ in spec["ylabels"]]))
    ax.set_yticklabels([t for _, t in spec["ylabels"]])
    ax.yaxis.set_minor_locator(FixedLocator(marks))
    ax.yaxis.remove_overlapping_locs = False
    ax.xaxis.set_major_locator(FixedLocator([-4, -2, 0, 2, 4]))
    ax.xaxis.set_minor_locator(FixedLocator([-3, -1, 1, 3]))
    ax.tick_params(axis="y", which="major", length=0, pad=10, labelsize=20)
    ax.tick_params(axis="y", which="minor", direction="in", left=True, right=True,
                   length=7, width=1.3)
    ax.tick_params(axis="x", which="both", direction="in", top=True, bottom=True,
                   length=7, width=1.3, labelsize=20, pad=10)
    if is_bottom:
        ax.set_xticklabels(["-4", "-2", "0", "2", "4"])
    else:
        ax.tick_params(axis="x", labelbottom=False)
    ax.set_xlabel("")
    ax.set_ylabel("")
    for side in ax.spines.values():
        side.set_linewidth(1.6)


check_lengths()
fig = plt.figure(figsize=(FIG_W / 100, FIG_H / 100), dpi=100)

for col in COLUMNS:
    x0, x1 = col["x"]
    n = len(col["panels"])
    h = (BOTTOM - TOP) / n
    w = x1 - x0
    for k, spec in enumerate(col["panels"]):
        y_top = TOP + k * h
        ax = fig.add_axes([x0 / FIG_W, 1 - (y_top + h) / FIG_H, w / FIG_W, h / FIG_H])
        ax.axvline(0, color=GRAY, lw=1.2, ls=(0, (6, 4)), zorder=1.5)

        if spec["kind"] == "total":
            draw(ax, E_TOTAL, np.asarray(spec["up"], float), RED, 1.8)
            draw(ax, E_TOTAL, np.asarray(spec["down"], float), BLACK, 1.8)
        else:
            lw = 2.0 if spec["kind"] == "ni" else 1.6
            for values, color in spec["series"]:
                v = np.asarray(values, float)
                draw(ax, E_PDOS, v, color, lw)
                draw(ax, E_PDOS, -v, color, lw)

        style_axis(ax, spec, k == n - 1)

        x_off = 6 if spec["kind"] in ("total", "ni") else 13
        ax.text(x_off / w, 1 - 9 / h, spec["name"], transform=ax.transAxes,
                ha="left", va="top", fontsize=21, color="black")

        if col["legend"] and spec["name"] in LEGENDS:
            for lx0, lx1, ly, text, color, fs, drop in LEGENDS[spec["name"]]:
                ax.plot([lx0, lx1], [ly, ly], transform=ax.transAxes, color=color,
                        lw=1.6, solid_capstyle="butt")
                ax.text(lx1 + 0.008, ly - drop / h, text, transform=ax.transAxes,
                        ha="left", va="baseline", fontsize=fs, color=color)

    fig.text((x0 - 4) / FIG_W, 1 - 33 / FIG_H, col["title"], fontsize=21,
             ha="left", va="baseline")
    fig.text((x0 + x1) / 2 / FIG_W, 1 - 996 / FIG_H, r"E-E$_F$ (eV)", fontsize=25,
             ha="center", va="center")

fig.text(34 / FIG_W, 1 - 444 / FIG_H, r"DOS (eV$^{\mathregular{-1}}$u.c.$^{\mathregular{-1}}$)",
         rotation=90, ha="center", va="center", fontsize=26)

fig.savefig("out.png", dpi=100)
